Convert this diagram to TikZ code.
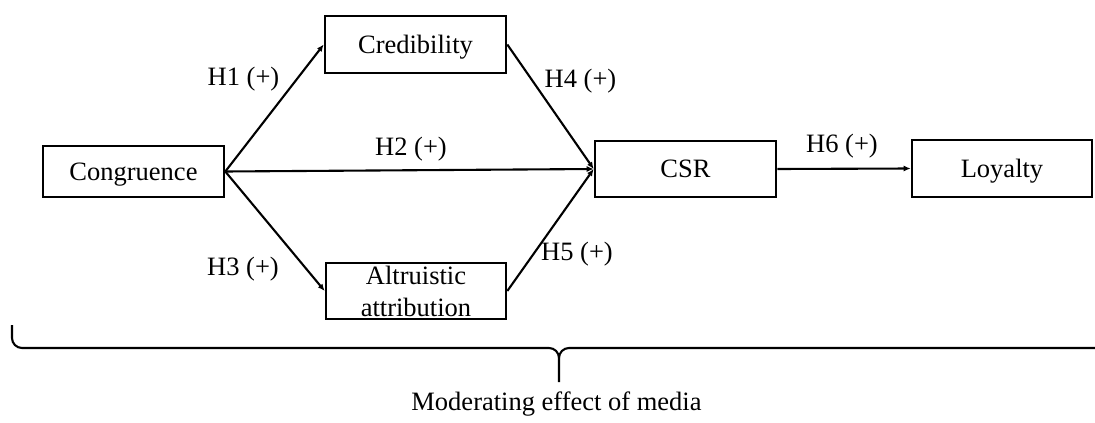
\documentclass[tikz,border=0pt]{standalone}
\usepackage{fontspec}
\setmainfont{Liberation Serif}
\usetikzlibrary{arrows.meta}
\begin{document}
\begin{tikzpicture}[x=1pt,y=-1pt,
  font=\fontsize{26.5}{32}\selectfont,
  construct/.style={draw=black,line width=2.6pt,minimum width=181pt,minimum height=56pt,
    inner sep=0pt,align=center},
  oneline/.style={text height=22pt,text depth=5pt},
  path/.style={line width=2.1pt,-{Latex[length=7pt,width=6pt]}},
  hyp/.style={anchor=base,inner sep=0pt},
  brace/.style={line width=2.1pt}]
\useasboundingbox (0,0) rectangle (1095,423);

% constructs
\node[construct,oneline,minimum height=51pt] (cong) at (133.5,171.5) {Congruence};
\node[construct,oneline,minimum height=57pt] (cred) at (415.5,44.5) {Credibility};
\node[construct,minimum width=180pt] (altr) at (416,291) {Altruistic\\attribution};
\node[construct,oneline] (csr) at (685.5,169) {CSR};
\node[construct,oneline,minimum width=180pt,minimum height=57pt] (loy) at (1002,168.5) {Loyalty};

% hypothesised paths
\draw[path] (cong.east) -- (cred.west);
\draw[path] (cong.east) -- (csr.west);
\draw[path] (cong.east) -- (altr.west);
\draw[path] (cred.east) -- (csr.west);
\draw[path] (altr.east) -- (csr.west);
\draw[path] (csr.east) -- (loy.west);

% path labels
\node[hyp] (h1) at (243.5,85) {H1 (+)};
\node[hyp] (h2) at (411,155) {H2 (+)};
\node[hyp] (h3) at (243,275) {H3 (+)};
\node[hyp] (h4) at (580.5,87) {H4 (+)};
\node[hyp] (h5) at (577,260) {H5 (+)};
\node[hyp] (h6) at (842,152) {H6 (+)};

% moderating brace
\coordinate (bl) at (12,325);
\coordinate (bt) at (559,382);
\coordinate (br) at (1095,348);
\draw[brace] (bl) -- (12,338) to[out=-90,in=180] (22,348) -- (549,348)
  to[out=0,in=90] (559,358) -- (bt);
\draw[brace] (559,358) to[out=90,in=180] (569,348) -- (br);
\node[hyp] (mod) at (556.5,410) {Moderating effect of media};
\end{tikzpicture}
\end{document}
